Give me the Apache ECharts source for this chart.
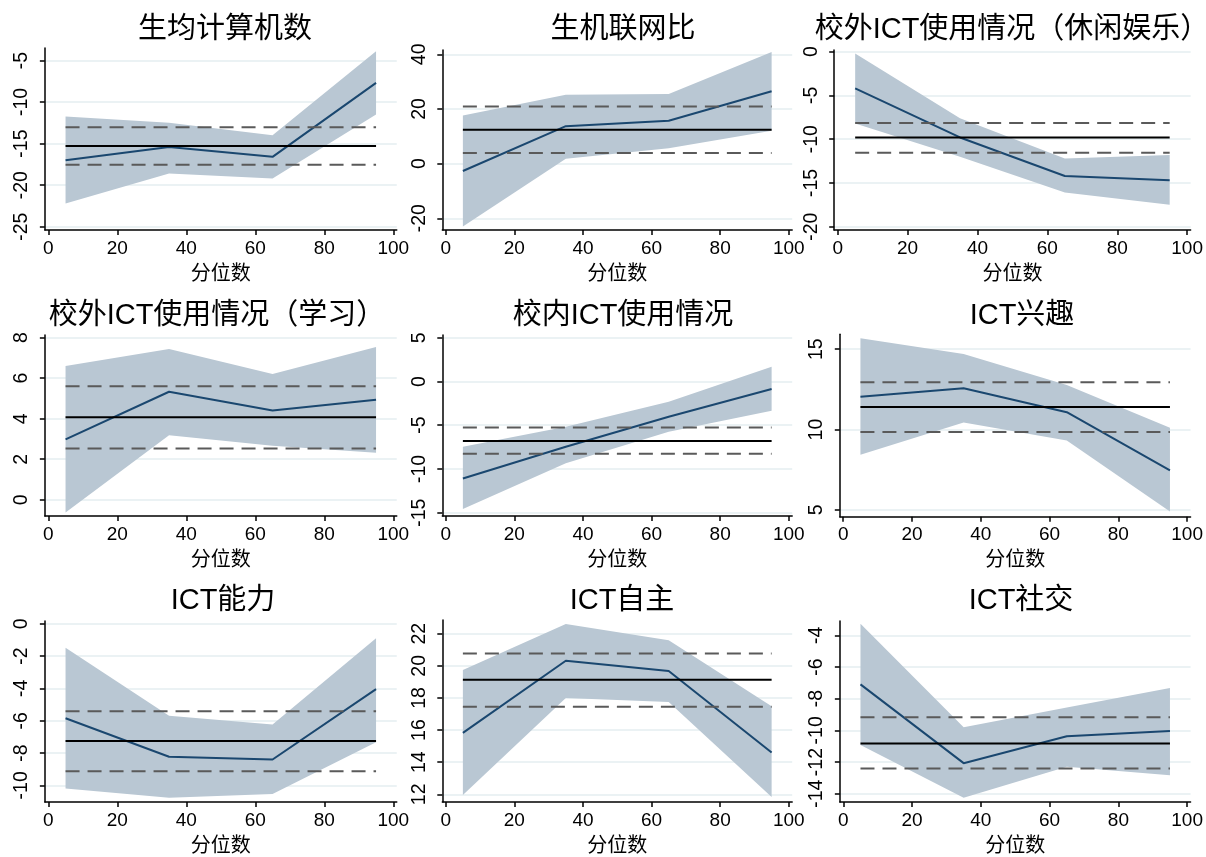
<!DOCTYPE html>
<html>
<head>
<meta charset="utf-8">
<script src="https://cdn.jsdelivr.net/npm/echarts@6/dist/echarts.min.js"></script>
<style>
  html, body { margin: 0; padding: 0; background: #fff; }
  #main { width: 1206px; height: 857px; }
</style>
</head>
<body>
<div id="main"></div>
<script>
// 面板标题
var titles = ['生均计算机数', '生机联网比', '校外ICT使用情况（休闲娱乐）',
  '校外ICT使用情况（学习）', '校内ICT使用情况', 'ICT兴趣',
  'ICT能力', 'ICT自主', 'ICT社交']
var quantiles = [5, 35, 65, 95]

// 分位数回归系数及置信区间
var qrEst = [
  [-17.0, -15.4, -16.6, -7.7],
  [-2.7, 13.7, 15.7, 26.5],
  [-4.2, -9.8, -14.2, -14.7],
  [2.98, 5.33, 4.41, 4.94],
  [-11.1, -7.46, -4.03, -0.87],
  [12.05, 12.57, 11.08, 7.47],
  [-5.85, -8.23, -8.4, -4.05],
  [15.82, 20.31, 19.67, 14.6],
  [-7.1, -12.07, -10.37, -10.04]
]
var qrLower = [
  [-22.2, -18.6, -19.2, -11.5],
  [-23.0, 1.8, 5.6, 12.0],
  [-8.2, -12.0, -16.1, -17.5],
  [-0.63, 3.19, 2.67, 2.32],
  [-14.58, -9.36, -5.74, -3.34],
  [8.44, 10.44, 9.32, 4.9],
  [-10.2, -10.76, -10.53, -7.33],
  [11.96, 17.99, 17.74, 11.83],
  [-10.92, -14.25, -12.3, -12.83]
]
var qrUpper = [
  [-11.75, -12.5, -14.0, -3.9],
  [17.6, 25.2, 25.5, 40.9],
  [-0.2, -7.6, -12.2, -11.8],
  [6.6, 7.44, 6.21, 7.54],
  [-7.46, -5.17, -2.31, 1.69],
  [15.68, 14.71, 12.78, 10.12],
  [-1.48, -5.69, -6.24, -0.9],
  [19.73, 22.6, 21.59, 17.48],
  [-3.27, -9.81, -8.55, -7.33]
]

// OLS 系数及置信区间
var olsEst = [-15.3, 12.4, -9.8, 4.07, -6.81, 11.41, -7.25, 19.13, -10.83]
var olsLower = [-17.55, 3.9, -11.55, 2.53, -8.26, 9.85, -9.12, 17.45, -12.41]
var olsUpper = [-13.05, 20.9, -8.15, 5.6, -5.25, 12.95, -5.42, 20.76, -9.18]

// 坐标轴刻度
var xTicks = [0, 20, 40, 60, 80, 100]
var yTicks = [
  [-25, -20, -15, -10, -5],
  [-20, 0, 20, 40],
  [-20, -15, -10, -5, 0],
  [0, 2, 4, 6, 8],
  [-15, -10, -5, 0, 5],
  [5, 10, 15],
  [-10, -8, -6, -4, -2, 0],
  [12, 14, 16, 18, 20, 22],
  [-14, -12, -10, -8, -6, -4]
]

// 布局
var yRange = [
  [-25.4, -3.5], [-24.3, 41.6], [-20.37, 0.19],
  [-0.8, 8.13], [-15.38, 5.31], [4.58, 15.93],
  [-11.03, 0.17], [11.52, 22.85], [-14.52, -3.1]
]
var gridBox = [
  [44.85, 48, 351.9, 182], [442.3, 50, 349.9, 180], [834.2, 50, 357, 180],
  [44.85, 335, 351.9, 181], [442.3, 335, 349.9, 181], [839.8, 334.3, 352.6, 182.4],
  [44.85, 621, 351.9, 181.7], [442.3, 620, 349.9, 182.7], [839.85, 621, 351.9, 181.7]
]
var titlePos = [
  [220, 27], [618, 27], [1007, 27],
  [212, 313], [618, 313], [1017, 313],
  [218, 598], [617, 598], [1016, 598]
]

var fontFamily = '"Liberation Sans", "Noto Sans CJK SC", sans-serif'
var bandColor = '#b9c7d3'
var lineColor = '#1a476f'

function pairs (ys) {
  return quantiles.map(function (q, k) { return [q, ys[k]] })
}
function flat (v) {
  return [[quantiles[0], v], [quantiles[quantiles.length - 1], v]]
}

// 置信带：上界正向 + 下界反向，经坐标系换算成多边形
function bandRenderer (lower, upper) {
  return function (params, api) {
    if (params.dataIndex !== 0) return null
    var pts = []
    for (var k = 0; k < quantiles.length; k++) {
      pts.push(api.coord([quantiles[k], upper[k]]))
    }
    for (var m = quantiles.length - 1; m >= 0; m--) {
      pts.push(api.coord([quantiles[m], lower[m]]))
    }
    return {
      type: 'polygon',
      shape: { points: pts },
      style: { fill: bandColor }
    }
  }
}

var grids = []
var xAxes = []
var yAxes = []
var titleList = []
var series = []

for (var i = 0; i < 9; i++) {
  var g = gridBox[i]
  grids.push({ left: g[0], top: g[1], width: g[2], height: g[3] })
  titleList.push({
    text: titles[i],
    left: titlePos[i][0],
    top: titlePos[i][1] - 17,
    textAlign: 'center',
    textStyle: { fontFamily: fontFamily, fontSize: 29, fontWeight: 'normal', color: '#000' }
  })
  xAxes.push({
    gridIndex: i,
    type: 'value',
    min: -1,
    max: 101,
    name: '分位数',
    nameLocation: 'middle',
    nameGap: 34,
    nameTextStyle: { fontFamily: fontFamily, fontSize: 20, color: '#000' },
    axisLine: { onZero: false, lineStyle: { color: '#000', width: 1.5 } },
    axisTick: { length: 5, lineStyle: { color: '#000', width: 1.5 }, customValues: xTicks },
    axisLabel: { fontFamily: fontFamily, fontSize: 19, color: '#000', margin: 9, customValues: xTicks },
    splitLine: { show: false }
  })
  yAxes.push({
    gridIndex: i,
    type: 'value',
    min: yRange[i][0],
    max: yRange[i][1],
    axisLine: { show: true, onZero: false, lineStyle: { color: '#000', width: 1.5 } },
    axisTick: { show: true, length: 5, lineStyle: { color: '#000', width: 1.5 }, customValues: yTicks[i] },
    axisLabel: { fontFamily: fontFamily, fontSize: 19.5, color: '#000', rotate: 90, margin: 13, customValues: yTicks[i] },
    splitLine: { show: true, lineStyle: { color: '#e4eef1', width: 1.5 } }
  })

  series.push({
    type: 'custom', xAxisIndex: i, yAxisIndex: i,
    data: quantiles.map(function (q, k) { return [q, qrLower[i][k], qrUpper[i][k]] }),
    renderItem: bandRenderer(qrLower[i], qrUpper[i]),
    encode: { x: 0, y: [1, 2] },
    silent: true, clip: false
  })
  series.push({
    type: 'line', xAxisIndex: i, yAxisIndex: i,
    data: pairs(qrEst[i]), symbol: 'none',
    lineStyle: { color: lineColor, width: 2 }
  })
  series.push({
    type: 'line', xAxisIndex: i, yAxisIndex: i,
    data: flat(olsLower[i]), symbol: 'none',
    lineStyle: { color: '#5a5a5a', width: 2, type: [14, 8] }
  })
  series.push({
    type: 'line', xAxisIndex: i, yAxisIndex: i,
    data: flat(olsUpper[i]), symbol: 'none',
    lineStyle: { color: '#5a5a5a', width: 2, type: [14, 8] }
  })
  series.push({
    type: 'line', xAxisIndex: i, yAxisIndex: i,
    data: flat(olsEst[i]), symbol: 'none',
    lineStyle: { color: '#000', width: 2 }
  })
}

var myChart = echarts.init(document.getElementById('main'))
myChart.setOption({
  animation: false,
  backgroundColor: '#fff',
  title: titleList,
  grid: grids,
  xAxis: xAxes,
  yAxis: yAxes,
  series: series
})
</script>
</body>
</html>
